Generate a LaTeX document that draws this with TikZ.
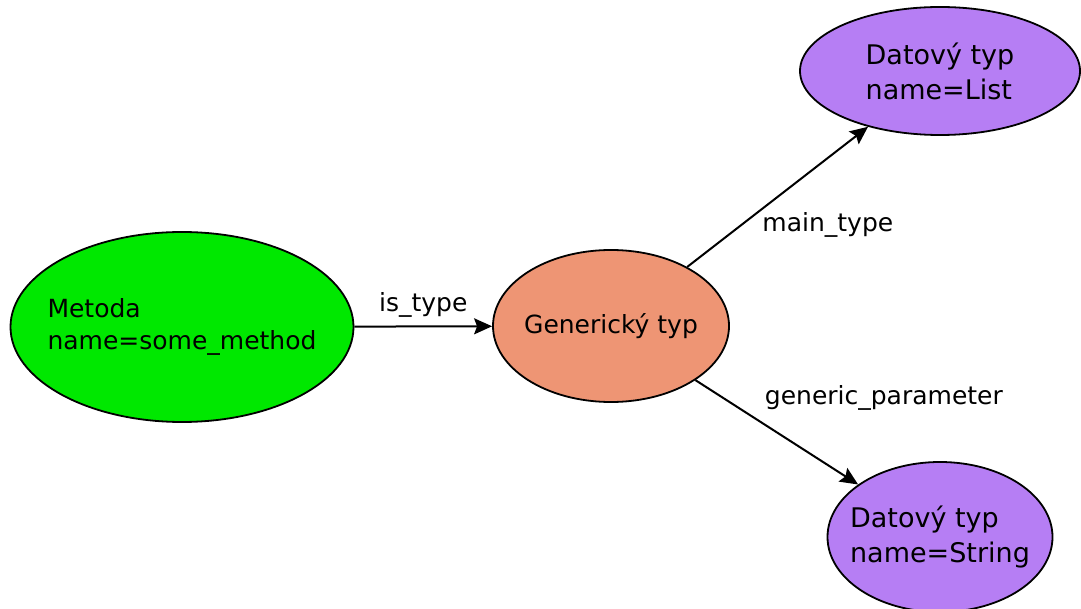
\documentclass[tikz,border=0pt]{standalone}
\usepackage{fontspec}
\setmainfont{DejaVu Sans}
\usetikzlibrary{arrows.meta, positioning, shapes.geometric}
\definecolor{methgreen}{RGB}{0,232,0}
\definecolor{gensalmon}{RGB}{238,149,116}
\definecolor{typepurple}{RGB}{182,126,244}

\begin{document}
\begin{tikzpicture}[x=1pt, y=-1pt,
    entity/.style={ellipse, draw, line width=1.8pt, align=left, inner sep=-20pt,
      font=\fontsize{25}{32}\selectfont},
    datatype/.style={entity, fill=typepurple, font=\fontsize{27}{35}\selectfont},
    rel/.style={-{Stealth[length=18pt, width=16pt, inset=3pt]}, line width=2pt},
    lbl/.style={inner sep=0pt, font=\fontsize{25}{31}\selectfont}]
  \useasboundingbox (0,0) rectangle (1081,609);
  % method on the left, generic type in the middle
  \node[entity, fill=methgreen, minimum width=343pt, minimum height=190pt] (meth) at (182,327) {Metoda\\name=some\_method};
  \node[entity, fill=gensalmon, minimum width=236pt, minimum height=152pt] (gen) at (611,326) {Generický typ};
  % data types on the right
  \node[datatype, minimum width=280pt, minimum height=128pt] (list) at (940,71) {Datový typ\\name=List};
  \node[datatype, minimum width=225pt, minimum height=150pt] (str) at (940,537) {Datový typ\\name=String};
  % relations
  \draw[rel] (meth) -- node[lbl, above=8pt] (ltype) {is\_type} (gen);
  \draw[rel] (gen) -- node[lbl, pos=0.3, right=20pt] (lmain) {main\_type} (list);
  \draw[rel] (gen) -- node[lbl, pos=0.175, right=40pt] (lparam) {generic\_parameter} (str);
\end{tikzpicture}
\end{document}
